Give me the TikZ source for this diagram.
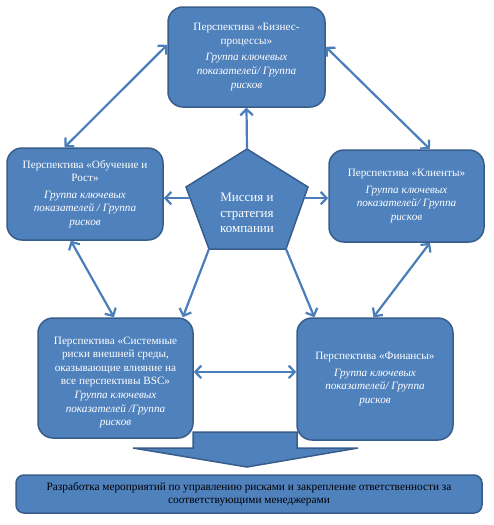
\documentclass[tikz,border=0pt]{standalone}
\usepackage{fontspec}
\setmainfont{Liberation Serif}
\usetikzlibrary{arrows.meta,calc}
\definecolor{boxfill}{HTML}{4F81BD}
\definecolor{boxline}{HTML}{385D8A}
\definecolor{arrcol}{HTML}{4A7EBB}
\begin{document}
\begin{tikzpicture}[x=1pt,y=-1pt,
  persp/.style={draw=boxline, line width=1.5pt, fill=boxfill, rounded corners=15pt,
    text=white, align=center, inner sep=0pt, font=\fontsize{11.2}{13.6}\selectfont},
  finalbox/.style={draw=boxline, line width=1.5pt, fill=boxfill, rounded corners=8pt,
    text=black, align=center, inner sep=0pt, font=\fontsize{11.3}{13}\selectfont},
  tipbarb/.tip={Straight Barb[length=6pt,width=12.5pt,line width=2.2pt]},
  twoway/.style={draw=arrcol, line width=2.2pt, tipbarb-tipbarb},
  oneway/.style={draw=arrcol, line width=2.2pt, -tipbarb},
  bigarrow/.style={draw=boxline, line width=1.5pt, fill=boxfill}
]
\useasboundingbox (0,0) rectangle (494,525);

% big down arrow
\draw[bigarrow] (193,432) -- (297,432) -- (297,448) -- (358,448) -- (247,467) -- (133,448) -- (193,448) -- cycle;

% perspective boxes
\node[persp, minimum width=157pt, minimum height=100pt] (T) at (246.5,57)
  {Перспектива «Бизнес-\\процессы»\\[3pt]\itshape Группа ключевых\\\itshape показателей/ Группа\\\itshape рисков};
\node[persp, minimum width=156pt, minimum height=92pt] (L) at (85,194)
  {Перспектива «Обучение и\\Рост»\\[3pt]\itshape Группа ключевых\\\itshape показателей / Группа\\\itshape рисков};
\node[persp, minimum width=155pt, minimum height=92pt] (R) at (406.5,196)
  {Перспектива «Клиенты»\\[3pt]\itshape Группа ключевых\\\itshape показателей/ Группа\\\itshape рисков};
\node[persp, minimum width=155pt, minimum height=120pt] (BL) at (115.5,378)
  {\rule{0pt}{16pt}Перспектива «Системные\\риски внешней среды,\\оказывающие влияние на\\все перспективы BSC»\\\itshape Группа ключевых\\\itshape показателей /Группа\\\itshape рисков};
\node[persp, minimum width=156pt, minimum height=122pt] (BR) at (375,379)
  {Перспектива «Финансы»\\[3pt]\itshape Группа ключевых\\\itshape показателей/ Группа\\\itshape рисков};

% final box
\node[finalbox, minimum width=466pt, minimum height=38pt] (F) at (249,494)
  {Разработка мероприятий по управлению рисками и закрепление ответственности за\\соответствующими менеджерами};

% pentagon
\coordinate (pT) at (247,149);
\coordinate (pR) at (308,187);
\coordinate (pBR) at (286,249);
\coordinate (pBL) at (209,249);
\coordinate (pL) at (186,187);
\draw[draw=boxline, line width=1.5pt, fill=boxfill] (pT) -- (pR) -- (pBR) -- (pBL) -- (pL) -- cycle;
\node[text=white, align=center, font=\fontsize{13}{15.5}\selectfont] (P) at (247,213)
  {Миссия и\\стратегия\\компании};

% connectors between perspectives
\draw[twoway] ($(L.north west)!0.37!(L.north east)$) -- ($(T.north west)!0.38!(T.south west)$);
\draw[twoway] ($(T.north east)!0.40!(T.south east)$) -- ($(R.north west)!0.65!(R.north east)$);
\draw[twoway] ($(L.south west)!0.41!(L.south east)$) -- ($(BL.north west)!0.49!(BL.north east)$);
\draw[twoway] ($(R.south west)!0.65!(R.south east)$) -- ($(BR.north west)!0.49!(BR.north east)$);
\coordinate (h1) at ($(BL.north east)!0.45!(BL.south east)$);
\draw[twoway] (h1) -- (BR.west |- h1);

% connectors from the mission
\draw[oneway] (pT) -- (T.south);
\coordinate (e7) at ($(pL)!0.18!(pBL)$);
\coordinate (e8) at ($(pR)!0.18!(pBR)$);
\draw[oneway] (e7) -- (L.east |- e7);
\draw[oneway] (e8) -- (R.west |- e8);
\draw[oneway] (pBL) -- ($(BL.north west)!0.93!(BL.north east)$);
\draw[oneway] (pBR) -- ($(BR.north west)!0.115!(BR.north east)$);
\end{tikzpicture}
\end{document}
